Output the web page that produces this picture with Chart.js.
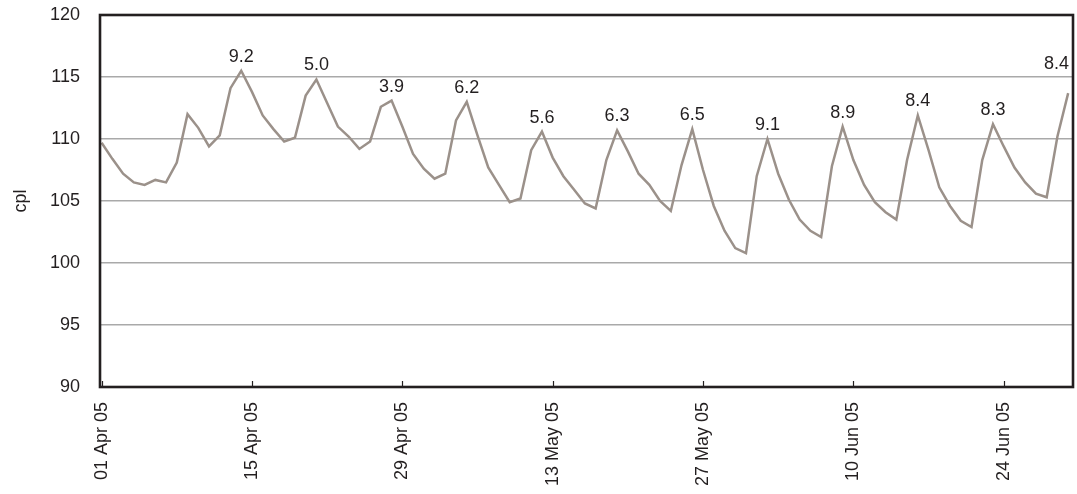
<!DOCTYPE html>
<html>
<head>
<meta charset="utf-8">
<script src="https://cdn.jsdelivr.net/npm/chart.js@4.4.0/dist/chart.umd.min.js"></script>
<style>
  html, body { margin: 0; padding: 0; background: #ffffff; }
  #wrap { width: 1077px; height: 494px; position: relative; }
</style>
</head>
<body>
<div id="wrap"><canvas id="c" width="1077" height="494"></canvas></div>
<script>
// Daily values, 01 Apr 05 .. 30 Jun 05 (day index 0..90)
const values = [
  109.7,108.4,107.2,106.5,106.3,106.7,106.5,108.1,112.0,110.9,
  109.4,110.3,114.1,115.5,113.8,111.9,110.8,109.8,110.1,113.5,
  114.8,112.9,111.0,110.2,109.2,109.8,112.6,113.1,111.0,108.8,
  107.6,106.8,107.2,111.5,113.0,110.3,107.7,106.3,104.9,105.2,
  109.1,110.6,108.5,107.0,105.9,104.8,104.4,108.3,110.7,109.0,
  107.2,106.3,105.0,104.2,107.9,110.8,107.5,104.6,102.6,101.2,
  100.8,107.0,110.0,107.2,105.1,103.5,102.6,102.1,107.8,111.0,
  108.3,106.3,104.9,104.1,103.5,108.3,111.9,109.1,106.1,104.6,
  103.4,102.9,108.3,111.2,109.4,107.7,106.5,105.6,105.3,110.2,
  113.7
];
const tickDays = [0, 14, 28, 42, 56, 70, 84];
const tickLabels = ["01 Apr 05","15 Apr 05","29 Apr 05","13 May 05","27 May 05","10 Jun 05","24 Jun 05"];
const peakDays = [13, 20, 27, 34, 41, 48, 55, 62, 69, 76, 83, 90];
const peakLabels = ["9.2","5.0","3.9","6.2","5.6","6.3","6.5","9.1","8.9","8.4","8.3","8.4"];
const yTicks = [90, 95, 100, 105, 110, 115, 120];

const FONT = "'Liberation Sans', Arial, sans-serif";
const TXT = '#231f20';

const points = values.map((v, i) => ({ x: i, y: v }));

const frameAndMarks = {
  id: 'frameAndMarks',
  afterDatasetsDraw(chart) {
    const { ctx, chartArea: a, scales } = chart;
    ctx.save();
    // inner tick marks on x axis
    ctx.strokeStyle = TXT;
    ctx.lineWidth = 1.2;
    tickDays.forEach(d => {
      const x = Math.round(scales.x.getPixelForValue(d)) + 0.5;
      ctx.beginPath();
      ctx.moveTo(x, a.bottom);
      ctx.lineTo(x, a.bottom - 6);
      ctx.stroke();
    });
    // frame
    ctx.lineWidth = 2.6;
    ctx.strokeRect(a.left, a.top, a.right - a.left, a.bottom - a.top);
    // peak labels
    const meta = chart.getDatasetMeta(0);
    ctx.font = '18px ' + FONT;
    ctx.fillStyle = TXT;
    ctx.textBaseline = 'alphabetic';
    peakDays.forEach((d, k) => {
      const p = meta.data[d];
      const txt = peakLabels[k];
      const w = ctx.measureText(txt).width;
      let x = p.x, y = p.y - 9;
      ctx.textAlign = 'center';
      if (x + w / 2 > a.right - 4) {
        ctx.textAlign = 'right';
        x = a.right - 4;
        y = p.y - 24;
      }
      ctx.fillText(txt, x, y);
    });
    ctx.restore();
  }
};

new Chart(document.getElementById('c'), {
  type: 'line',
  data: {
    datasets: [{
      data: points,
      borderColor: '#9b918a',
      borderWidth: 2.5,
      pointRadius: 0,
      tension: 0,
      fill: false
    }]
  },
  options: {
    responsive: false,
    animation: false,
    events: [],
    layout: { padding: { top: 15, right: 4, left: 0, bottom: 0 } },
    plugins: { legend: { display: false }, tooltip: { enabled: false } },
    scales: {
      x: {
        type: 'linear',
        min: -0.15,
        max: 90.45,
        afterBuildTicks(scale) { scale.ticks = tickDays.map(v => ({ value: v })); },
        afterFit(scale) {
          scale.height = 107;
          scale.paddingTop = 0; scale.paddingBottom = 0;
          scale.paddingLeft = 0; scale.paddingRight = 0;
        },
        grid: { display: false, drawTicks: false },
        border: { display: false },
        ticks: {
          autoSkip: false,
          maxRotation: 90,
          minRotation: 90,
          padding: 15,
          color: TXT,
          font: { family: FONT, size: 18 },
          callback: (v) => { const i = tickDays.indexOf(v); return i >= 0 ? tickLabels[i] : ''; }
        }
      },
      y: {
        min: 90,
        max: 120,
        afterBuildTicks(scale) { scale.ticks = yTicks.map(v => ({ value: v })); },
        afterFit(scale) {
          scale.width = 100;
          scale.paddingTop = 0; scale.paddingBottom = 0;
        },
        grid: { color: '#a9a9a9', lineWidth: 1.5, drawTicks: false },
        border: { display: false },
        ticks: {
          padding: 20,
          color: TXT,
          font: { family: FONT, size: 18 }
        },
        title: {
          display: true,
          text: 'cpl',
          color: TXT,
          font: { family: FONT, size: 18 },
          padding: { top: 10, bottom: 0 }
        }
      }
    }
  },
  plugins: [frameAndMarks]
});
</script>
</body>
</html>
